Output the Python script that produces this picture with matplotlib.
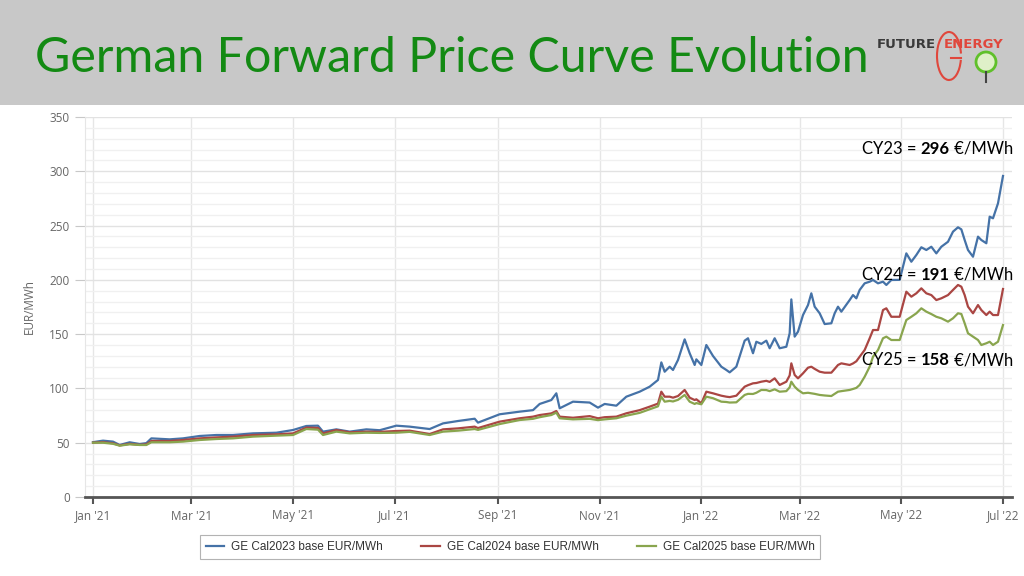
import matplotlib
matplotlib.use('Agg')
import matplotlib.pyplot as plt
import matplotlib.dates as mdates
from matplotlib.offsetbox import TextArea, HPacker, AnnotationBbox
from matplotlib.patches import Rectangle, Arc, Ellipse
from matplotlib.lines import Line2D
from matplotlib.ticker import MultipleLocator
import pandas as pd

# valores (EUR/MWh)
dates = [
    '2021-01-01', '2021-01-07', '2021-01-13', '2021-01-17', '2021-01-23', '2021-01-29',
    '2021-02-02', '2021-02-05', '2021-02-16', '2021-02-24', '2021-03-06', '2021-03-16',
    '2021-03-26', '2021-04-07', '2021-04-21', '2021-05-01', '2021-05-09', '2021-05-16',
    '2021-05-19', '2021-05-27', '2021-06-04', '2021-06-14', '2021-06-22', '2021-07-02',
    '2021-07-10', '2021-07-22', '2021-07-30', '2021-08-08', '2021-08-18', '2021-08-20',
    '2021-09-02', '2021-09-14', '2021-09-22', '2021-09-26', '2021-10-03', '2021-10-06',
    '2021-10-08', '2021-10-16', '2021-10-26', '2021-10-31', '2021-11-04', '2021-11-11',
    '2021-11-17', '2021-11-25', '2021-12-01', '2021-12-06', '2021-12-08', '2021-12-10',
    '2021-12-13', '2021-12-15', '2021-12-18', '2021-12-22', '2021-12-25', '2021-12-28',
    '2021-12-29', '2022-01-01', '2022-01-04', '2022-01-08', '2022-01-13', '2022-01-16',
    '2022-01-18', '2022-01-22', '2022-01-27', '2022-01-29', '2022-02-01', '2022-02-03',
    '2022-02-06', '2022-02-09', '2022-02-11', '2022-02-14', '2022-02-17', '2022-02-21',
    '2022-02-23', '2022-02-24', '2022-02-26', '2022-02-28', '2022-03-03', '2022-03-06',
    '2022-03-08', '2022-03-10', '2022-03-13', '2022-03-16', '2022-03-20', '2022-03-22',
    '2022-03-24', '2022-03-26', '2022-03-31', '2022-04-02', '2022-04-04', '2022-04-06',
    '2022-04-09', '2022-04-12', '2022-04-14', '2022-04-17', '2022-04-20', '2022-04-22',
    '2022-04-25', '2022-04-30', '2022-05-04', '2022-05-07', '2022-05-10', '2022-05-13',
    '2022-05-16', '2022-05-19', '2022-05-22', '2022-05-25', '2022-05-29', '2022-06-01',
    '2022-06-04', '2022-06-06', '2022-06-08', '2022-06-10', '2022-06-13', '2022-06-16',
    '2022-06-18', '2022-06-21', '2022-06-23', '2022-06-25', '2022-06-28', '2022-07-01',
]
cy23 = [
    50.5, 51.9, 51.0, 47.9, 50.4, 48.8, 49.6, 54.0, 53.1, 54.0, 56.2, 57.1,
    57.1, 58.6, 59.2, 61.7, 65.4, 65.7, 60.2, 62.3, 60.2, 62.3, 61.5, 65.7,
    64.8, 62.6, 67.8, 70.0, 72.1, 68.5, 76.2, 78.6, 80.0, 85.7, 89.3, 95.5,
    81.7, 87.8, 87.0, 82.3, 85.7, 84.1, 92.4, 97.0, 101.6, 107.8, 124.0, 115.4,
    120.0, 117.0, 126.2, 145.2, 132.4, 121.6, 126.8, 121.6, 140.0, 129.9, 120.0, 117.0,
    114.8, 120.0, 144.0, 146.2, 132.4, 143.0, 141.0, 144.0, 137.0, 146.2, 137.0, 138.4,
    150.8, 182.0, 147.7, 152.3, 167.6, 176.8, 187.6, 175.3, 169.2, 159.3, 160.0, 169.2,
    175.3, 170.7, 181.4, 186.0, 183.0, 190.7, 196.8, 198.3, 199.9, 196.8, 198.3, 195.3,
    199.9, 200.0, 224.4, 216.7, 222.9, 230.0, 227.5, 230.5, 224.4, 230.5, 235.1, 244.4,
    248.4, 246.5, 236.7, 227.5, 221.3, 239.8, 236.7, 233.7, 258.2, 256.7, 270.5, 295.7,
]
cy24 = [
    50.0, 50.5, 49.5, 47.5, 49.0, 48.0, 48.5, 51.6, 51.6, 52.5, 54.0, 54.9,
    55.6, 57.1, 57.7, 58.6, 63.9, 63.6, 58.6, 61.7, 59.6, 60.2, 60.0, 60.8,
    61.1, 58.0, 62.3, 63.2, 64.8, 63.5, 69.4, 72.5, 74.0, 75.5, 77.0, 79.2,
    74.0, 73.0, 74.5, 72.5, 73.5, 74.0, 77.1, 80.0, 83.2, 86.0, 97.0, 92.4,
    92.4, 91.5, 93.0, 98.6, 91.5, 89.3, 90.0, 86.3, 97.0, 95.5, 93.3, 92.4,
    92.0, 93.3, 101.6, 103.0, 104.7, 105.0, 106.2, 107.0, 106.0, 109.3, 103.2, 106.2,
    112.0, 123.1, 112.4, 109.3, 113.9, 119.1, 120.0, 118.0, 115.4, 114.5, 114.5, 118.0,
    121.6, 123.1, 121.6, 123.0, 125.0, 129.2, 135.4, 146.2, 153.8, 153.8, 172.2, 173.8,
    166.0, 166.0, 189.1, 184.5, 187.6, 192.2, 187.6, 186.0, 181.4, 183.0, 186.0, 190.7,
    195.3, 193.7, 186.0, 175.3, 169.2, 176.8, 172.2, 167.6, 170.7, 167.6, 167.6, 191.6,
]
cy25 = [
    50.0, 50.0, 49.0, 47.3, 48.5, 47.9, 47.9, 50.4, 50.4, 51.0, 52.5, 53.4,
    54.0, 55.6, 56.5, 57.1, 62.6, 62.0, 57.1, 60.2, 58.6, 59.2, 59.0, 59.2,
    60.0, 57.1, 60.2, 61.1, 62.6, 61.8, 67.2, 70.9, 72.0, 73.5, 75.5, 77.7,
    72.5, 71.5, 72.0, 70.8, 71.5, 72.5, 74.9, 77.5, 80.8, 83.5, 92.4, 87.8,
    88.5, 88.0, 89.5, 94.0, 87.8, 85.7, 86.5, 85.4, 92.4, 91.0, 87.8, 87.5,
    87.0, 87.2, 94.0, 95.0, 94.9, 96.0, 98.6, 98.5, 97.5, 99.2, 97.0, 97.5,
    101.0, 106.2, 101.6, 98.6, 95.5, 96.0, 95.5, 95.0, 94.0, 93.5, 93.0, 95.0,
    97.0, 97.5, 98.6, 99.5, 100.5, 103.2, 110.8, 120.0, 129.2, 135.4, 146.2, 147.7,
    144.6, 144.6, 163.0, 166.0, 169.2, 173.8, 170.7, 168.5, 166.0, 164.6, 161.5, 164.6,
    169.2, 168.6, 160.0, 150.8, 147.7, 144.6, 140.0, 141.6, 143.0, 140.0, 143.0, 158.4,
]

series_labels = ['GE Cal2023 base EUR/MWh', 'GE Cal2024 base EUR/MWh', 'GE Cal2025 base EUR/MWh']
series_colors = ['#4572a7', '#aa4643', '#89a54e']
final_names = ['CY23', 'CY24', 'CY25']
final_values = ['296', '191', '158']

x = pd.to_datetime(dates)

W, H = 1024, 576
fig = plt.figure(figsize=(10.24, 5.76), dpi=100, facecolor='white')

# faixa cinza do cabeçalho
fig.patches.append(Rectangle((0, 1 - 105 / H), 1, 105 / H, transform=fig.transFigure,
                             facecolor='#c8c8c8', edgecolor='none', zorder=0))
fig.text(35 / W, 1 - 58 / H, 'German Forward Price Curve Evolution', color='#138a13',
         fontsize=34.8, family='Lato', ha='left', va='center')

# logo (aproximado): textos + G desenhado + lâmpada
fig.text(877 / W, 1 - 44 / H, 'FUTURE', color='#3a3a3a', fontsize=9.5, weight='heavy',
         family='DejaVu Sans', ha='left', va='center')
fig.text(944 / W, 1 - 44 / H, 'ENERGY', color='#e0473c', fontsize=9.5, weight='heavy',
         family='DejaVu Sans', ha='left', va='center')
fig.patches.append(Arc((949 / W, 1 - 56 / H), 24 / W, 48 / H, theta1=20, theta2=330,
                       transform=fig.transFigure, color='#e0473c', lw=1.5))
fig.lines.append(Line2D([951 / W, 961 / W], [1 - 58 / H, 1 - 58 / H], transform=fig.transFigure,
                        color='#e0473c', lw=1.5))
fig.patches.append(Ellipse((986 / W, 1 - 62 / H), 20 / W, 20 / H, transform=fig.transFigure,
                           facecolor='#dff0c8', edgecolor='#5fc02a', lw=2))
fig.lines.append(Line2D([986 / W, 986 / W], [1 - 72 / H, 1 - 82 / H], transform=fig.transFigure,
                        color='#444444', lw=1.5))

ax = fig.add_axes([85 / W, 1 - 497 / H, (1012 - 85) / W, (497 - 117) / H])

lines = []
for vals, lab, col in zip([cy23, cy24, cy25], series_labels, series_colors):
    ln, = ax.plot(x, vals, color=col, lw=1.6, label=lab, zorder=3)
    lines.append(ln)

start = pd.Timestamp('2021-01-01')
ax.set_xlim(mdates.date2num(start) - 4.8, mdates.date2num(start) + 551.4)
ax.set_ylim(0, 350)

ticks = pd.date_range('2021-01-01', '2022-07-01', freq='2MS')
ax.set_xticks(ticks)
ax.xaxis.set_major_formatter(mdates.DateFormatter("%b '%y"))
ax.yaxis.set_major_locator(MultipleLocator(50))
ax.yaxis.set_minor_locator(MultipleLocator(10))

ax.grid(which='major', axis='y', color='#e2e2e2', lw=1)
ax.grid(which='minor', axis='y', color='#f0f0f0', lw=1)
ax.grid(which='major', axis='x', color='#e6e6e6', lw=1)
ax.set_axisbelow(True)

for s in ['top', 'right']:
    ax.spines[s].set_visible(False)
ax.spines['left'].set_color('#e6e6e6')
ax.spines['bottom'].set_color('#555555')
ax.spines['bottom'].set_linewidth(2)

ax.tick_params(axis='y', which='major', length=7, color='#c8c8c8', labelcolor='#666666',
               labelsize=8.5, pad=4)
ax.tick_params(axis='y', which='minor', length=0)
ax.tick_params(axis='x', length=5, width=1.5, color='#555555', labelcolor='#666666',
               labelsize=8.5, pad=4)
for lab in ax.get_xticklabels() + ax.get_yticklabels():
    lab.set_family('Open Sans')
ax.set_ylabel('EUR/MWh', color='#666666', fontsize=8.5, family='Open Sans', labelpad=10)

# rótulos dos valores finais
label_y = [149, 275, 360]
for name, val, py in zip(final_names, final_values, label_y):
    parts = [TextArea(name + ' = ', textprops=dict(fontsize=12, family='Lato', color='black')),
             TextArea(val, textprops=dict(fontsize=12, family='Lato', weight='bold', color='black')),
             TextArea(' €/MWh', textprops=dict(fontsize=12, family='Lato', color='black'))]
    box = HPacker(children=parts, pad=0, sep=0, align='baseline')
    ab = AnnotationBbox(box, (1013, H - py), xycoords='figure pixels', box_alignment=(1, 0.5),
                        frameon=False, pad=0)
    ab.set_zorder(5)
    fig.add_artist(ab)

leg = fig.legend(handles=lines, loc='center', bbox_to_anchor=(510 / W, 1 - 547 / H), ncol=3,
                 frameon=True, fancybox=False, edgecolor='#a0a0a0', handlelength=1.6,
                 columnspacing=3.2, handletextpad=0.6, borderpad=0.5,
                 prop=dict(family='Liberation Sans', size=8.5))
leg.get_frame().set_linewidth(0.8)
for t in leg.get_texts():
    t.set_color('#333333')

fig.savefig('out.png', dpi=100, facecolor='white')
